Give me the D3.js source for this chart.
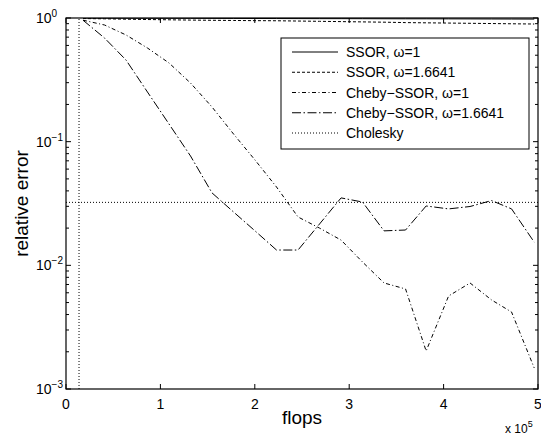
<!DOCTYPE html>
<html>
<head>
<meta charset="utf-8">
<script src="https://cdn.jsdelivr.net/npm/d3@7"></script>
<style>
  html, body { margin: 0; padding: 0; background: #fff; }
  svg { display: block; font-family: "Liberation Sans", Arial, Helvetica, sans-serif; }
</style>
</head>
<body>
<div id="chart"></div>
<script>
// flops (units of 1e5) at which each iteration was logged
const flops = [0.18, 0.408, 0.636, 0.863, 1.091, 1.319, 1.547, 1.775, 2.002, 2.23, 2.458,
               2.686, 2.914, 3.141, 3.369, 3.597, 3.815, 4.053, 4.28, 4.508, 4.72, 4.96];

const ssor1 = [0.998, 0.997, 0.996, 0.995, 0.995, 0.994, 0.993, 0.992, 0.991, 0.990, 0.989,
               0.988, 0.988, 0.987, 0.986, 0.985, 0.985, 0.984, 0.983, 0.982, 0.981, 0.980];
const ssorOpt = [0.99, 0.985, 0.978, 0.972, 0.967, 0.962, 0.958, 0.955, 0.952, 0.95, 0.945,
                 0.94, 0.935, 0.93, 0.925, 0.918, 0.914, 0.91, 0.906, 0.902, 0.898, 0.894];
const cheby1 = [0.96, 0.878, 0.729, 0.572, 0.433, 0.298, 0.1906, 0.1153, 0.0711, 0.043, 0.0246,
                0.020, 0.016, 0.01064, 0.0072, 0.00644, 0.00203, 0.00565, 0.0072, 0.00525, 0.00419, 0.00148];
const chebyOpt = [0.96, 0.689, 0.457, 0.252, 0.139, 0.0766, 0.0385, 0.027, 0.019, 0.0133, 0.0133,
                  0.0216, 0.0351, 0.0325, 0.019, 0.0193, 0.0302, 0.0286, 0.0299, 0.0334, 0.0286, 0.0154];

// Cholesky: flops cost and achieved error
const cholFlops = 0.138;
const cholErr = 0.0323;

const legendLabels = ["SSOR, \u03c9=1", "SSOR, \u03c9=1.6641", "Cheby\u2212SSOR, \u03c9=1",
                      "Cheby\u2212SSOR, \u03c9=1.6641", "Cholesky"];
const xTicks = [0, 1, 2, 3, 4, 5];
const yExps = [0, -1, -2, -3];

const width = 541, height = 439;
const margin = { top: 18, right: 3, bottom: 50, left: 66 };
const iw = width - margin.left - margin.right;
const ih = height - margin.top - margin.bottom;

const svg = d3.select("#chart").append("svg")
  .attr("width", width).attr("height", height);

const g = svg.append("g").attr("transform", `translate(${margin.left},${margin.top})`);

const x = d3.scaleLinear().domain([0, 5]).range([0, iw]);
const y = d3.scaleLog().domain([1e-3, 1]).range([ih, 0]);

svg.append("defs").append("clipPath").attr("id", "clip")
  .append("rect").attr("width", iw).attr("height", ih);

const line = d3.line().x(d => x(d[0])).y(d => y(d[1]));

const styles = [
  { dash: null },
  { dash: "3,2" },
  { dash: "4,2.5,1,2.5" },
  { dash: "9,2.5,1.5,2.5" },
  { dash: "1,2" }
];

const series = [ssor1, ssorOpt, cheby1, chebyOpt].map(vals => flops.map((f, i) => [f, vals[i]]));

const plot = g.append("g").attr("clip-path", "url(#clip)");

// Cholesky reference lines
plot.append("path")
  .attr("d", line([[cholFlops, 1e-3], [cholFlops, 1]]))
  .attr("fill", "none").attr("stroke", "#000").attr("stroke-width", 1)
  .attr("stroke-dasharray", styles[4].dash);
plot.append("path")
  .attr("d", line([[0, cholErr], [5, cholErr]]))
  .attr("fill", "none").attr("stroke", "#000").attr("stroke-width", 1)
  .attr("stroke-dasharray", styles[4].dash);

plot.selectAll(".series")
  .data(series)
  .join("path")
  .attr("class", "series")
  .attr("fill", "none")
  .attr("stroke", "#000")
  .attr("stroke-width", 1)
  .attr("stroke-dasharray", (d, i) => styles[i].dash)
  .attr("d", line);

// ticks (inward, on all four sides)
const minor = [];
yExps.slice(0, 3).forEach(e => {
  for (let k = 2; k <= 9; k++) minor.push(k * Math.pow(10, e - 1));
});

const tickG = g.append("g").attr("stroke", "#000").attr("stroke-width", 1);
xTicks.forEach(t => {
  tickG.append("line").attr("x1", x(t)).attr("x2", x(t)).attr("y1", ih).attr("y2", ih - 5);
  tickG.append("line").attr("x1", x(t)).attr("x2", x(t)).attr("y1", 0).attr("y2", 5);
});
yExps.forEach(e => {
  const v = Math.pow(10, e);
  tickG.append("line").attr("x1", 0).attr("x2", 5).attr("y1", y(v)).attr("y2", y(v));
  tickG.append("line").attr("x1", iw).attr("x2", iw - 5).attr("y1", y(v)).attr("y2", y(v));
});
minor.forEach(v => {
  tickG.append("line").attr("x1", 0).attr("x2", 3).attr("y1", y(v)).attr("y2", y(v));
  tickG.append("line").attr("x1", iw).attr("x2", iw - 3).attr("y1", y(v)).attr("y2", y(v));
});

// frame
g.append("rect").attr("width", iw).attr("height", ih)
  .attr("fill", "none").attr("stroke", "#000").attr("stroke-width", 1.2);

// x tick labels
g.selectAll(".xl").data(xTicks).join("text")
  .attr("class", "xl")
  .attr("x", d => x(d)).attr("y", ih + 20)
  .attr("text-anchor", "middle").attr("font-size", 14)
  .text(d => d);

// y tick labels
yExps.forEach(e => {
  const t = g.append("text")
    .attr("x", -30).attr("y", y(Math.pow(10, e)) + 5)
    .attr("font-size", 14);
  t.append("tspan").text("10");
  t.append("tspan").attr("dy", -6).attr("font-size", 10)
    .text(e === 0 ? "0" : "\u2212" + (-e));
});

// axis labels
svg.append("text")
  .attr("x", 302).attr("y", 424)
  .attr("text-anchor", "middle").attr("font-size", 19)
  .text("flops");

const xs = svg.append("text").attr("x", 505).attr("y", 433).attr("font-size", 12);
xs.append("tspan").text("x 10");
xs.append("tspan").attr("dy", -6).attr("font-size", 9).text("5");

svg.append("text")
  .attr("transform", `translate(28, ${margin.top + ih / 2}) rotate(-90)`)
  .attr("text-anchor", "middle").attr("font-size", 19)
  .text("relative error");

// legend
const legend = g.append("g").attr("transform", `translate(${281 - margin.left}, ${38 - margin.top})`);
legend.append("rect")
  .attr("width", 248).attr("height", 111)
  .attr("fill", "#fff").attr("stroke", "#000").attr("stroke-width", 1);

const items = legend.selectAll(".li").data(legendLabels).join("g")
  .attr("class", "li")
  .attr("transform", (d, i) => `translate(0, ${14 + i * 20.25})`);

items.append("line")
  .attr("x1", 11).attr("x2", 57)
  .attr("stroke", "#000").attr("stroke-width", 1)
  .attr("stroke-dasharray", (d, i) => styles[i].dash);

items.append("text")
  .attr("x", 65).attr("y", 5)
  .attr("font-size", 14)
  .text(d => d);
</script>
</body>
</html>
